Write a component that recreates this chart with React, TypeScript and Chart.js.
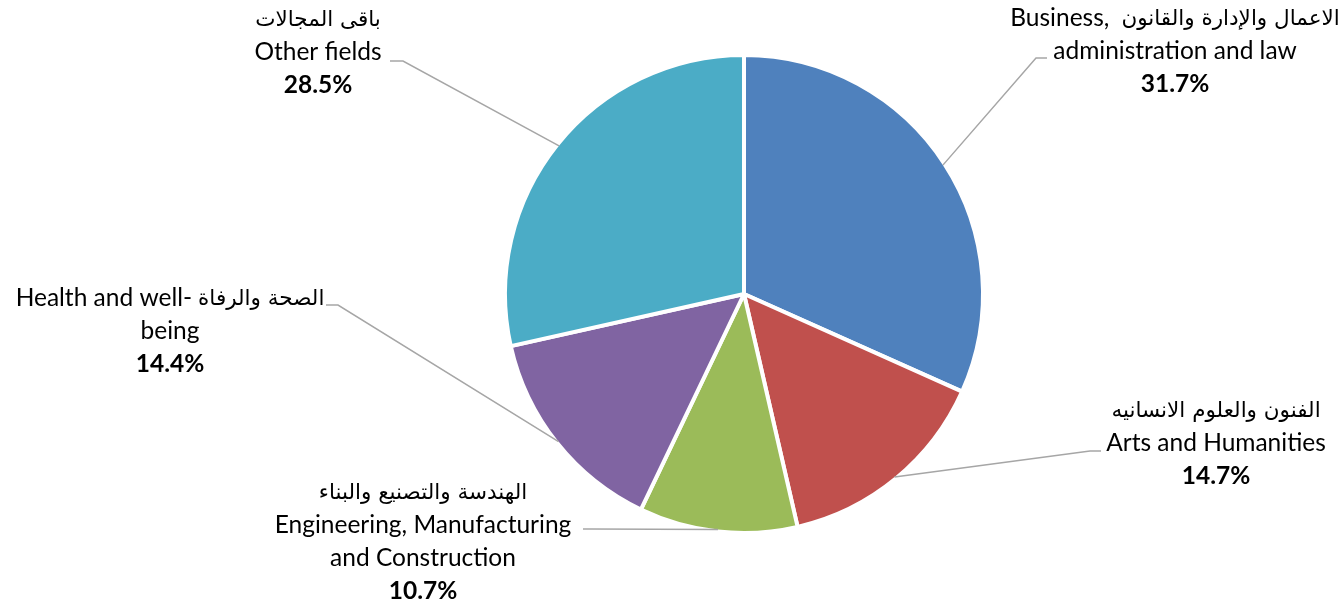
import React, { useEffect, useRef } from "react";
import { Chart, registerables } from "chart.js";

Chart.register(...registerables);

const categories = [
  "Business, administration and law",
  "Arts and Humanities",
  "Engineering, Manufacturing and Construction",
  "Health and well-being",
  "Other fields",
];
const shares = [31.7, 14.7, 10.7, 14.4, 28.5];
const sliceColors = ["#4F81BD", "#C0504D", "#9BBB59", "#8064A2", "#4BACC6"];
// each label line is a list of runs in visual (left-to-right) order; "ar" marks Arabic runs
type Run = { t: string; ar?: boolean };
const labelLines: Run[][][] = [
  [[{ t: "Business," }, { t: "الاعمال والإدارة والقانون", ar: true }], [{ t: "administration and law" }]],
  [[{ t: "الفنون والعلوم الانسانيه", ar: true }], [{ t: "Arts and Humanities" }]],
  [[{ t: "الهندسة والتصنيع والبناء", ar: true }], [{ t: "Engineering, Manufacturing" }], [{ t: "and Construction" }]],
  [[{ t: "Health and well-" }, { t: "الصحة والرفاة", ar: true }], [{ t: "being" }]],
  [[{ t: "باقى المجالات", ar: true }], [{ t: "Other fields" }]],
];

// label layout (pixels): text centre x, first line y, gap between runs, elbow point, end x of leader
const labelLayout = [
  { cx: 1175, y0: 18, gap: 12, ex: 1036, ey: 58, endX: 1047 },
  { cx: 1216, y0: 410, gap: 8, ex: 1090, ey: 451, endX: 1101 },
  { cx: 423, y0: 492, gap: 8, ex: 590, ey: 529, endX: 583 },
  { cx: 170, y0: 298, gap: 6, ex: 338, ey: 305, endX: 326 },
  { cx: 318, y0: 19, gap: 8, ex: 403, ey: 61, endX: 390 },
];

const LATIN_FONT = "24.5px Lato, sans-serif";
const LATIN_BOLD = "bold 24.5px Lato, sans-serif";
const ARABIC_FONT = "21.5px 'DejaVu Sans', sans-serif";
const LINE_H = 33;

const labelPlugin = {
  id: "pieLabels",
  afterDraw(chart: any) {
    const ctx = chart.ctx;
    const meta = chart.getDatasetMeta(0);
    meta.data.forEach((arc: any, i: number) => {
      const p = arc.getProps(["x", "y", "startAngle", "endAngle", "outerRadius"], true);
      const mid = (p.startAngle + p.endAngle) / 2;
      const r = p.outerRadius - 2;
      const sx = p.x + Math.cos(mid) * r;
      const sy = p.y + Math.sin(mid) * r;
      const L = labelLayout[i];
      ctx.save();
      ctx.strokeStyle = "#A6A6A6";
      ctx.lineWidth = 1.5;
      ctx.beginPath();
      ctx.moveTo(sx, sy);
      ctx.lineTo(L.ex, L.ey);
      ctx.lineTo(L.endX, L.ey);
      ctx.stroke();

      ctx.fillStyle = "#000000";
      ctx.textBaseline = "middle";
      const lines = labelLines[i];
      lines.forEach((runs, k) => {
        const widths = runs.map((run) => {
          ctx.font = run.ar ? ARABIC_FONT : LATIN_FONT;
          return ctx.measureText(run.t).width;
        });
        const total = widths.reduce((a, b) => a + b, 0) + L.gap * (runs.length - 1);
        let x = L.cx - total / 2;
        const y = L.y0 + k * LINE_H;
        runs.forEach((run, j) => {
          ctx.font = run.ar ? ARABIC_FONT : LATIN_FONT;
          ctx.direction = run.ar ? "rtl" : "ltr";
          ctx.textAlign = run.ar ? "right" : "left";
          ctx.fillText(run.t, run.ar ? x + widths[j] : x, y + (run.ar ? 1 : 0));
          x += widths[j] + L.gap;
        });
      });
      ctx.direction = "ltr";
      ctx.textAlign = "center";
      ctx.font = LATIN_BOLD;
      ctx.fillText(shares[i].toFixed(1) + "%", L.cx, L.y0 + lines.length * LINE_H);
      ctx.restore();
    });
  },
};

export default function App() {
  const ref = useRef<HTMLCanvasElement | null>(null);
  useEffect(() => {
    if (!ref.current) return;
    const chart = new Chart(ref.current, {
      type: "pie",
      data: {
        labels: categories,
        datasets: [
          {
            data: shares,
            backgroundColor: sliceColors,
            borderColor: "#FFFFFF",
            borderWidth: 4,
            hoverOffset: 0,
            offset: 0,
          },
        ],
      },
      options: {
        responsive: false,
        animation: false,
        layout: { padding: { left: 400, right: 256, top: 53, bottom: 69 } },
        plugins: {
          legend: { display: false },
          tooltip: { enabled: false },
        },
        events: [],
      },
      plugins: [labelPlugin],
    });
    return () => chart.destroy();
  }, []);
  return (
    <div style={{ position: "absolute", left: 0, top: 0, width: 1344, height: 604, background: "#fff" }}>
      <canvas ref={ref} width={1344} height={604} style={{ display: "block" }} />
    </div>
  );
}
